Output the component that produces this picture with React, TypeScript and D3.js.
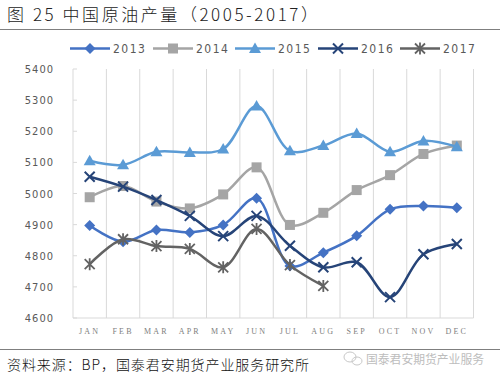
import React from "react";
import * as d3 from "d3";

const months = ["JAN", "FEB", "MAR", "APR", "MAY", "JUN", "JUL", "AUG", "SEP", "OCT", "NOV", "DEC"];
const yTicks = [4600, 4700, 4800, 4900, 5000, 5100, 5200, 5300, 5400];
const seriesNames = ["2013", "2014", "2015", "2016", "2017"];
const v2013 = [4897, 4845, 4883, 4875, 4899, 4985, 4767, 4810, 4864, 4949, 4960, 4954];
const v2014 = [4988, 5024, 4974, 4952, 4997, 5084, 4899, 4938, 5011, 5059, 5127, 5154];
const v2015 = [5105, 5092, 5134, 5132, 5143, 5281, 5137, 5154, 5193, 5134, 5169, 5150];
const v2016 = [5054, 5022, 4979, 4928, 4863, 4928, 4832, 4763, 4779, 4667, 4805, 4838];
const v2017 = [4773, 4853, 4831, 4822, 4763, 4886, 4770, 4703];

const seriesValues = [v2013, v2014, v2015, v2016, v2017];
const colors = ["#4472C4", "#A5A5A5", "#5B9BD5", "#264478", "#636363"];
const markers = ["diamond", "square", "triangle", "x", "star"];

const W = 500, H = 381;
const plot = { left: 73, right: 473.5, top: 69, bottom: 318 };

function Marker({ type, x, y, color }: { type: string; x: number; y: number; color: string }) {
  const s = 5.5;
  if (type === "diamond") {
    return <path d={`M${x},${y - s}L${x + s},${y}L${x},${y + s}L${x - s},${y}Z`} fill={color} />;
  }
  if (type === "square") {
    return <rect x={x - 5} y={y - 5} width={10} height={10} fill={color} />;
  }
  if (type === "triangle") {
    return <path d={`M${x},${y - 6}L${x + 6},${y + 4.5}L${x - 6},${y + 4.5}Z`} fill={color} />;
  }
  if (type === "x") {
    const r = 5;
    return (
      <path d={`M${x - r},${y - r}L${x + r},${y + r}M${x + r},${y - r}L${x - r},${y + r}`} stroke={color} strokeWidth={2} fill="none" />
    );
  }
  const r = 5;
  return (
    <path
      d={`M${x - r},${y - r}L${x + r},${y + r}M${x + r},${y - r}L${x - r},${y + r}M${x},${y - r - 1}L${x},${y + r + 1}`}
      stroke={color}
      strokeWidth={1.8}
      fill="none"
    />
  );
}

export default function App() {
  const x = d3.scaleBand().domain(months).range([plot.left, plot.right]);
  const y = d3.scaleLinear().domain([4600, 5400]).range([plot.bottom, plot.top]);
  const cx = (m: string) => (x(m) as number) + x.bandwidth() / 2;
  const line = d3
    .line<number>()
    .x((_, i) => cx(months[i]))
    .y((d) => y(d))
    .curve(d3.curveCatmullRom.alpha(0.5));

  const gridXs = months.map((m) => x(m) as number).concat([plot.right]);
  const legendX = [70, 153, 235, 318, 400];

  return (
    <svg width={W} height={H} style={{ position: "absolute", left: 0, top: 0, background: "#fff" }}>
      <rect width={W} height={H} fill="#fff" />
      <text
        x={7}
        y={21}
        fontFamily="'Noto Sans CJK SC', sans-serif"
        fontSize={17}
        fontWeight={300}
        fill="#222"
        textLength={311}
        lengthAdjust="spacing"
      >
        图 25 中国原油产量（2005-2017）
      </text>
      <line x1={0} x2={500} y1={29.5} y2={29.5} stroke="#7f7f7f" strokeWidth={1} />

      {gridXs.map((gx, i) => (
        <line key={"g" + i} x1={gx} x2={gx} y1={plot.top} y2={plot.bottom} stroke="#D9D9D9" strokeWidth={1} />
      ))}
      <line x1={plot.left} x2={plot.right} y1={plot.bottom} y2={plot.bottom} stroke="#D9D9D9" strokeWidth={1} />
      {yTicks.map((t) => (
        <g key={"t" + t}>
          <line x1={plot.left} x2={plot.left + 4} y1={y(t)} y2={y(t)} stroke="#D9D9D9" />
          <text
            x={54}
            y={y(t) + 4}
            textAnchor="end"
            fontFamily="'Liberation Sans Narrow', 'DejaVu Sans Condensed', 'Liberation Sans', sans-serif"
            fontSize={11}
            letterSpacing={1}
            fill="#595959"
          >
            {t}
          </text>
        </g>
      ))}
      {months.map((m) => (
        <text
          key={m}
          x={cx(m)}
          y={334}
          textAnchor="middle"
          fontFamily="'Liberation Serif', serif"
          fontSize={8}
          letterSpacing={2.2}
          fill="#808080"
        >
          {m}
        </text>
      ))}

      {seriesValues.map((vals, si) => (
        <g key={"s" + si}>
          <path d={line(vals) as string} fill="none" stroke={colors[si]} strokeWidth={2.5} strokeLinejoin="round" />
          {vals.map((v, i) => (
            <Marker key={i} type={markers[si]} x={cx(months[i])} y={y(v)} color={colors[si]} />
          ))}
        </g>
      ))}

      {seriesNames.map((n, i) => (
        <g key={"l" + n}>
          <line x1={legendX[i]} x2={legendX[i] + 40} y1={48.5} y2={48.5} stroke={colors[i]} strokeWidth={2.5} />
          <Marker type={markers[i]} x={legendX[i] + 20} y={48.5} color={colors[i]} />
          <text
            x={legendX[i] + 43}
            y={53}
            fontFamily="'Liberation Sans Narrow', 'DejaVu Sans Condensed', 'Liberation Sans', sans-serif"
            fontSize={12}
            letterSpacing={1.5}
            fill="#595959"
          >
            {n}
          </text>
        </g>
      ))}

      <line x1={0} x2={500} y1={349.5} y2={349.5} stroke="#7f7f7f" strokeWidth={1} />
      <text
        x={7}
        y={370}
        fontFamily="'Noto Sans CJK SC', sans-serif"
        fontSize={14}
        fontWeight={300}
        fill="#111"
        textLength={302}
        lengthAdjust="spacing"
      >
        资料来源：BP，国泰君安期货产业服务研究所
      </text>
      <g stroke="#c8c8c8" fill="none" strokeWidth={1}>
        <ellipse cx={350} cy={357} rx={6} ry={5} />
        <ellipse cx={357} cy={361} rx={5} ry={4} />
      </g>
      <text x={366} y={364} fontFamily="'Noto Sans CJK SC', sans-serif" fontSize={12} fill="#bdbdbd" textLength={118} lengthAdjust="spacingAndGlyphs">
        国泰君安期货产业服务
      </text>
    </svg>
  );
}
